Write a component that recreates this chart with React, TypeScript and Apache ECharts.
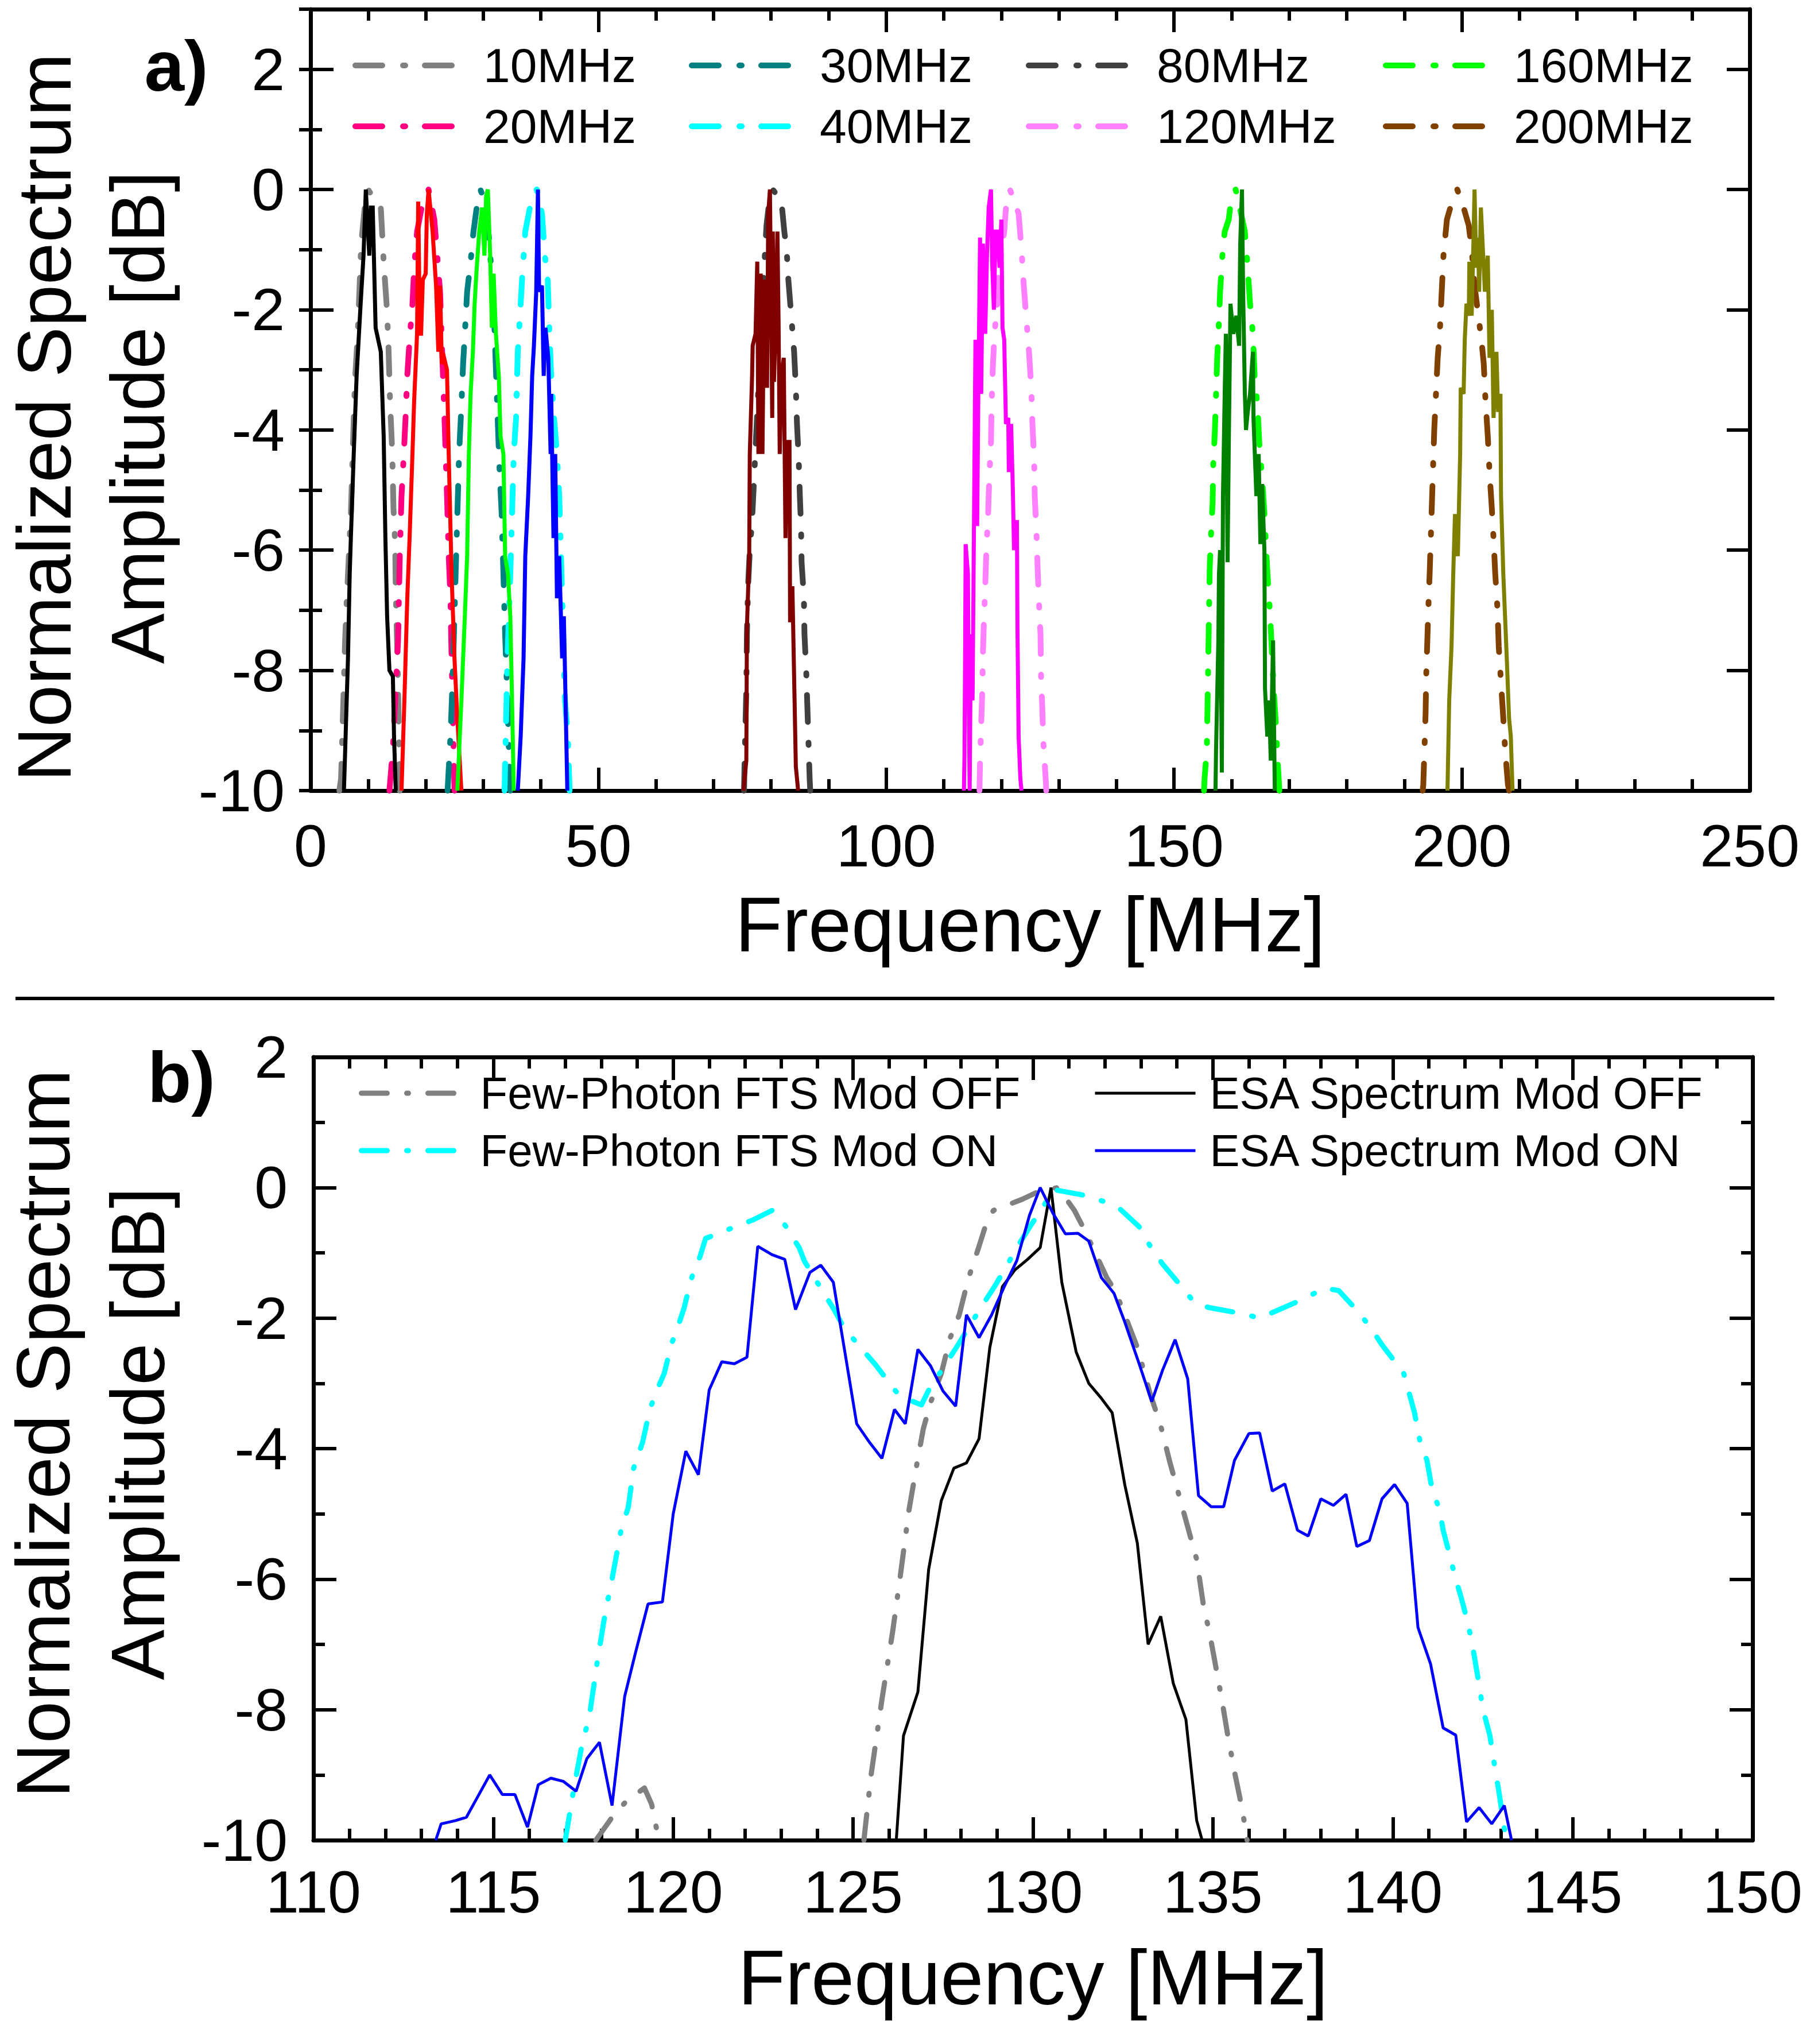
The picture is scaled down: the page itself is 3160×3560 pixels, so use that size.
import React, { useEffect, useRef } from "react";
import * as echarts from "echarts";

const FONT = "'Liberation Sans', Arial, Helvetica, sans-serif";

// ---------- Panel a: tick labels / categories ----------
const bandNames = ["10MHz", "20MHz", "30MHz", "40MHz", "80MHz", "120MHz", "160MHz", "200MHz"];
const legendColumnsA = [["10MHz", "20MHz"], ["30MHz", "40MHz"], ["80MHz", "120MHz"], ["160MHz", "200MHz"]];
const ftsColors = ["#808080", "#FF0080", "#008080", "#00FFFF", "#404040", "#FF80FF", "#00FF00", "#804000"];
const esaColors = ["#000000", "#FF0000", "#00FF00", "#0000FF", "#800000", "#FF00FF", "#008000", "#808000"];

// ---------- Panel a: few-photon FTS spectra (dash-dot) ----------
const fts10 = [[5.0,-10],[5.3,-9.8],[6.0,-7.5],[6.3,-6.8],[7.0,-5.4],[7.7,-3.2],[8.2,-2.4],[8.8,-0.9],[9.5,-0.2],[10.0,0],[11.0,-0.15],[12.2,-0.3],[12.7,-1.2],[13.2,-1.9],[13.5,-2.5],[13.8,-3.5],[14.2,-4.4],[14.4,-5.3],[14.7,-5.9],[14.8,-6.7],[15.1,-7.8],[15.3,-8.8],[15.5,-10]];
const fts20 = [[13.7,-10],[14.3,-9.3],[15.2,-7.5],[15.5,-6.1],[15.8,-5.1],[16.2,-4.4],[16.5,-3.8],[16.8,-3.1],[17.2,-2.5],[17.7,-1.9],[18.0,-1.3],[18.5,-0.7],[19.5,-0.2],[20.5,0],[21.5,-0.5],[22.0,-1.1],[22.5,-1.7],[23.0,-3.1],[23.3,-3.9],[23.7,-5.1],[24.0,-6.1],[24.3,-6.8],[24.5,-7.8],[24.8,-9.1],[25.0,-10]];
const fts30 = [[23.8,-10],[24.3,-9.1],[24.7,-8.1],[25.2,-6.4],[25.5,-5.4],[25.8,-4.4],[26.2,-3.6],[26.5,-2.9],[26.8,-2.4],[27.2,-1.7],[27.8,-1.2],[28.3,-0.7],[29.0,-0.2],[29.5,0],[30.3,-0.2],[31.0,-0.8],[31.8,-1.9],[32.2,-3.0],[32.5,-3.8],[32.8,-4.6],[33.2,-5.4],[33.5,-6.4],[33.8,-7.4],[34.2,-8.5],[34.5,-9.5],[34.7,-10]];
const fts40 = [[33.7,-10],[34.2,-7.8],[34.7,-6.4],[35.0,-5.4],[35.3,-4.4],[35.7,-3.8],[36.0,-2.7],[36.5,-1.9],[36.8,-1.4],[37.3,-0.7],[38.5,-0.1],[39.3,0],[40.2,-0.4],[40.7,-1.1],[41.2,-1.5],[41.5,-2.4],[41.8,-3.1],[42.3,-3.8],[42.8,-4.4],[43.2,-5.1],[43.5,-6.1],[43.8,-7.1],[44.2,-8.5],[44.7,-9.1],[45.0,-10]];
const fts80 = [[75.3,-10],[75.4,-9.5],[75.7,-8.3],[75.8,-7.4],[76.0,-6.6],[76.3,-6.0],[76.7,-5.5],[78.8,-1.3],[79.2,-0.6],[79.8,-0.1],[80.3,0],[81.8,-0.2],[82.3,-0.7],[82.7,-1.0],[83.0,-1.5],[83.5,-2.1],[84.0,-2.7],[84.3,-3.3],[84.5,-3.9],[84.8,-4.5],[85.0,-5.1],[85.2,-5.6],[85.3,-6.2],[85.7,-6.8],[85.8,-7.4],[86.1,-8.0],[86.3,-8.6],[86.5,-9.2],[86.7,-9.8],[86.8,-10]];
const fts120 = [[116.2,-10],[116.3,-9.5],[116.5,-8.9],[116.7,-8.3],[116.8,-7.7],[117.0,-7.1],[117.2,-6.6],[117.4,-6.0],[117.7,-5.4],[117.9,-4.8],[118.2,-4.2],[118.3,-3.6],[118.5,-3.0],[118.8,-2.4],[119.3,-1.9],[119.5,-1.4],[120.5,-0.7],[120.8,-0.3],[121.5,0],[123.0,-0.4],[123.5,-1.0],[123.9,-1.6],[124.3,-2.1],[124.8,-2.7],[125.2,-3.3],[125.4,-3.9],[125.7,-4.5],[125.8,-5.1],[126.1,-5.7],[126.3,-6.3],[126.5,-6.8],[126.8,-7.4],[126.9,-8.1],[127.1,-8.6],[127.3,-9.2],[127.7,-9.8],[127.8,-10]];
const fts160 = [[155.2,-10],[155.3,-9.8],[155.7,-9.3],[155.8,-8.7],[155.9,-8.1],[156.0,-7.5],[156.1,-6.9],[156.2,-6.3],[156.4,-5.8],[156.7,-5.2],[156.8,-4.6],[157.1,-4.0],[157.3,-3.4],[157.5,-2.8],[157.8,-2.2],[158.0,-1.7],[158.4,-1.1],[158.8,-0.7],[159.5,-0.5],[160.0,-0.1],[160.7,0],[161.2,-0.2],[162.3,-0.7],[162.8,-1.3],[163.2,-1.9],[163.7,-2.4],[164.0,-3.1],[164.5,-3.6],[164.8,-4.2],[165.3,-4.8],[165.7,-5.4],[166.0,-6.0],[166.3,-6.5],[166.7,-7.1],[167.0,-7.7],[167.3,-8.3],[167.7,-8.9],[168.0,-9.5],[168.3,-10]];
const fts200 = [[193.2,-10],[193.3,-9.9],[193.5,-9.3],[193.7,-8.7],[193.8,-8.1],[194.0,-7.5],[194.2,-6.9],[194.4,-6.4],[194.6,-5.8],[194.8,-5.2],[195.0,-4.6],[195.2,-4.0],[195.5,-3.4],[195.8,-2.8],[196.2,-2.3],[196.5,-1.7],[196.8,-1.1],[197.4,-0.5],[198.3,-0.2],[199.2,0],[200.3,-0.3],[201.2,-0.6],[201.7,-1.0],[202.2,-1.6],[203.0,-2.2],[203.5,-2.6],[203.8,-2.9],[204.1,-3.5],[204.5,-4.1],[204.8,-4.7],[205.2,-5.3],[205.5,-5.8],[205.8,-6.4],[206.2,-7.0],[206.4,-7.6],[206.8,-8.2],[207.2,-8.8],[207.5,-9.3],[208.0,-9.9],[208.2,-10]];

// ---------- Panel a: ESA spectra (solid) ----------
const esa10 = [[5.8,-10],[6.5,-7.8],[6.8,-6.4],[7.0,-5.8],[7.5,-4.4],[8.0,-3.1],[8.7,-1.9],[9.2,-1.1],[9.6,0],[10.2,-1.1],[10.5,-0.3],[10.8,-0.3],[11.3,-2.3],[12.2,-2.7],[12.7,-4.1],[13.0,-5.8],[13.3,-7.1],[13.7,-8.0],[14.3,-8.1],[14.5,-9.1],[14.8,-10]];
const esa20 = [[15.8,-10],[16.3,-8.5],[16.8,-6.8],[17.2,-5.8],[17.7,-4.4],[18.0,-3.5],[18.5,-2.4],[18.7,-0.2],[19.0,-2.4],[19.2,-2.4],[19.5,-1.5],[20.0,-1.4],[20.2,-0.4],[20.5,0],[21.2,-0.7],[21.8,-1.6],[22.2,-2.7],[22.5,-1.6],[22.8,-2.9],[23.2,-2.8],[23.7,-3.0],[24.0,-4.4],[24.5,-6.4],[25.0,-7.8],[25.5,-8.8],[26.2,-10]];
const esa30 = [[25.5,-10],[26.2,-8.5],[26.8,-7.1],[27.2,-6.1],[27.5,-4.4],[27.8,-3.4],[28.2,-2.7],[28.5,-1.9],[28.8,-1.4],[29.3,-0.7],[29.8,-0.3],[30.2,-1.1],[30.5,-0.1],[30.8,0],[31.2,-1.1],[31.5,-2.3],[31.8,-1.4],[32.2,-2.4],[32.7,-3.1],[33.0,-4.1],[33.5,-4.4],[33.8,-6.1],[34.3,-6.4],[34.7,-7.1],[35.0,-8.5],[35.3,-10]];
const esa40 = [[36.0,-10],[36.5,-9.1],[37.0,-7.8],[37.3,-6.1],[37.8,-5.1],[38.2,-4.1],[38.5,-3.1],[38.8,-2.6],[39.2,-1.7],[39.5,0],[39.7,-1.7],[40.2,-1.6],[40.5,-3.1],[40.8,-2.3],[41.3,-2.8],[41.7,-4.4],[41.8,-3.4],[42.2,-5.8],[42.5,-4.4],[42.8,-6.8],[43.2,-6.1],[43.7,-7.8],[44.0,-7.1],[44.3,-8.5],[44.6,-10]];
const esa80 = [[75.2,-10],[75.7,-9.5],[75.8,-7.3],[76.2,-6.1],[76.3,-4.4],[76.7,-3.1],[76.8,-2.6],[77.3,-2.4],[77.6,-1.2],[77.8,-4.4],[78.2,-1.4],[78.5,-4.4],[78.8,-1.5],[79.0,-1.7],[79.3,-3.3],[79.5,-0.4],[79.8,0],[80.2,-3.8],[80.3,-0.7],[80.5,-3.2],[80.8,-2.2],[81.1,-0.7],[81.3,-2.2],[81.5,-4.4],[81.8,-3.1],[82.2,-2.8],[82.5,-5.8],[82.8,-4.2],[83.2,-4.2],[83.3,-7.2],[83.7,-6.6],[84.0,-8.1],[84.3,-9.6],[84.7,-10]];
const esa120 = [[113.5,-10],[113.6,-9.4],[113.7,-7.8],[113.8,-5.9],[114.2,-6.4],[114.3,-8.1],[114.5,-10],[114.7,-7.4],[115.0,-8.5],[115.2,-6.1],[115.5,-2.5],[115.8,-5.6],[116.0,-3.4],[116.3,-0.8],[116.5,-3.4],[116.8,-0.9],[117.2,-2.4],[117.5,-1.1],[117.8,-0.3],[118.2,0],[118.4,-1.2],[118.7,-2.0],[119.0,-0.7],[119.3,-0.7],[119.7,-1.3],[120.0,-0.5],[120.2,-2.3],[120.5,-2.5],[120.8,-3.9],[121.2,-3.8],[121.3,-4.7],[121.7,-3.9],[122.0,-5.0],[122.2,-6.0],[122.7,-5.5],[122.8,-7.3],[123.0,-9.1],[123.3,-9.8],[123.5,-10]];
const esa160 = [[157.2,-10],[157.3,-9.3],[157.7,-7.5],[157.8,-6.4],[158.0,-6.0],[158.3,-9.7],[158.5,-5.1],[158.8,-3.4],[159.0,-2.4],[159.3,-6.2],[159.5,-4.3],[159.8,-1.9],[160.0,-2.1],[160.3,-2.4],[160.8,-2.1],[161.3,-2.6],[161.5,-0.9],[161.8,0],[162.0,-1.7],[162.3,-3.4],[162.5,-4.0],[162.8,-3.7],[163.2,-3.4],[163.7,-2.7],[163.8,-3.8],[164.3,-5.1],[164.7,-4.4],[165.0,-5.9],[165.3,-4.9],[165.7,-6.0],[165.8,-8.3],[166.2,-9.1],[166.5,-8.5],[166.8,-9.5],[167.2,-7.5],[167.5,-10]];
const esa200 = [[197.5,-10],[197.8,-8.5],[198.2,-7.6],[198.5,-6.4],[198.8,-5.4],[199.3,-6.1],[199.7,-4.4],[199.8,-3.3],[200.3,-3.4],[200.5,-2.5],[200.8,-1.9],[201.2,-2.1],[201.3,-1.2],[201.7,-2.1],[202.0,-0.9],[202.2,0],[202.5,-1.3],[202.8,-0.8],[203.0,-1.7],[203.3,-0.3],[203.7,-1.1],[204.0,-1.7],[204.5,-1.1],[204.8,-2.8],[205.2,-2.0],[205.5,-3.8],[206.0,-2.7],[206.3,-3.7],[206.7,-3.4],[206.8,-5.1],[207.2,-6.4],[207.5,-7.1],[207.8,-7.8],[208.2,-8.8],[208.5,-9.1],[208.8,-10]];

const ftsSeriesA = [fts10, fts20, fts30, fts40, fts80, fts120, fts160, fts200];
const esaSeriesA = [esa10, esa20, esa30, esa40, esa80, esa120, esa160, esa200];

// ---------- Panel b ----------
const seriesNamesB = ["Few-Photon FTS Mod OFF", "Few-Photon FTS Mod ON", "ESA Spectrum Mod OFF", "ESA Spectrum Mod ON"];
const ftsOff = [[117.85,-10],[118.3,-9.65],[118.7,-9.4],[119.2,-9.2],[119.4,-9.45],[119.6,-10],[122.5,null],[125.3,-10],[125.5,-9.0],[125.8,-7.85],[126.1,-6.8],[126.3,-6.0],[126.55,-4.95],[126.8,-4.15],[126.95,-3.7],[127.15,-3.3],[127.45,-2.85],[127.7,-2.3],[127.95,-1.95],[128.2,-1.4],[128.5,-0.9],[128.7,-0.55],[128.9,-0.35],[129.7,-0.18],[130.2,-0.05],[130.7,0],[131.15,-0.35],[131.45,-0.67],[132.05,-1.38],[132.3,-1.6],[132.55,-1.95],[132.9,-2.45],[133.25,-3.15],[133.55,-3.65],[133.8,-4.2],[134.05,-4.7],[134.3,-5.2],[134.55,-5.7],[134.75,-6.45],[134.9,-6.8],[135.05,-7.25],[135.25,-7.85],[135.4,-8.35],[135.6,-8.95],[135.75,-9.35],[135.9,-9.8],[135.95,-10]];
const ftsOn = [[117.0,-10],[117.24,-9.2],[117.46,-8.55],[117.67,-8.1],[117.88,-7.3],[118.1,-6.55],[118.3,-6.0],[118.55,-5.25],[118.75,-4.9],[118.9,-4.3],[119.15,-3.9],[119.35,-3.4],[119.55,-3.1],[119.75,-2.85],[119.95,-2.4],[120.15,-2.1],[120.3,-1.85],[120.5,-1.4],[120.75,-1.05],[120.9,-0.78],[121.4,-0.67],[122.2,-0.5],[122.75,-0.35],[123.1,-0.57],[123.5,-0.92],[123.65,-1.13],[124.0,-1.45],[124.45,-1.85],[124.7,-2.1],[125.05,-2.35],[125.6,-2.7],[125.95,-2.95],[126.3,-3.2],[126.9,-3.33],[127.15,-3.05],[127.5,-2.77],[127.95,-2.38],[128.55,-1.84],[128.95,-1.5],[129.3,-1.17],[129.55,-0.92],[129.95,-0.57],[130.3,-0.28],[130.55,-0.03],[131.35,-0.11],[131.95,-0.21],[132.4,-0.32],[132.95,-0.6],[133.25,-0.89],[133.6,-1.17],[134.1,-1.5],[134.5,-1.77],[134.9,-1.84],[135.8,-1.93],[136.3,-2.0],[136.8,-1.88],[137.55,-1.7],[138.1,-1.54],[138.5,-1.58],[139.05,-1.91],[139.4,-2.16],[139.7,-2.41],[140.3,-2.84],[140.45,-3.14],[140.6,-3.44],[140.75,-3.87],[140.95,-4.18],[141.1,-4.65],[141.3,-4.93],[141.4,-5.25],[141.55,-5.57],[141.75,-6.0],[141.9,-6.28],[142.1,-6.7],[142.25,-7.13],[142.4,-7.62],[142.5,-7.98],[142.7,-8.4],[142.8,-8.76],[142.95,-9.26],[143.1,-9.82],[143.2,-10]];
const esaOff = [[126.2,-10],[126.4,-8.4],[126.8,-7.73],[127.1,-5.85],[127.45,-4.8],[127.8,-4.3],[128.15,-4.22],[128.5,-3.85],[128.8,-2.45],[129.15,-1.52],[129.5,-1.26],[129.85,-1.1],[130.2,-0.92],[130.5,0],[130.8,-1.45],[131.2,-2.52],[131.55,-3.0],[131.9,-3.23],[132.2,-3.45],[132.55,-4.55],[132.9,-5.45],[133.2,-7.0],[133.55,-6.57],[133.9,-7.6],[134.25,-8.15],[134.55,-9.7],[134.7,-10]];
const esaOn = [[113.4,-10],[113.55,-9.75],[113.95,-9.7],[114.25,-9.65],[114.55,-9.35],[114.9,-9.0],[115.25,-9.3],[115.6,-9.3],[115.95,-9.8],[116.25,-9.15],[116.6,-9.05],[116.95,-9.1],[117.3,-9.25],[117.6,-8.75],[117.95,-8.5],[118.3,-9.47],[118.65,-7.8],[118.95,-7.13],[119.3,-6.38],[119.7,-6.35],[120.0,-5.0],[120.35,-4.04],[120.7,-4.4],[121.0,-3.1],[121.35,-2.67],[121.7,-2.7],[122.05,-2.6],[122.35,-0.9],[122.75,-1.03],[123.1,-1.1],[123.4,-1.87],[123.8,-1.3],[124.1,-1.19],[124.45,-1.45],[124.75,-2.45],[125.1,-3.62],[125.45,-3.9],[125.8,-4.15],[126.15,-3.4],[126.45,-3.62],[126.8,-2.48],[127.15,-2.73],[127.5,-3.12],[127.85,-3.35],[128.15,-1.95],[128.5,-2.3],[128.85,-1.95],[129.2,-1.52],[129.55,-1.12],[129.9,-0.43],[130.2,0],[130.55,-0.39],[130.9,-0.71],[131.25,-0.7],[131.55,-0.82],[131.9,-1.38],[132.25,-1.62],[132.55,-2.06],[132.95,-2.7],[133.3,-3.28],[133.6,-2.8],[133.95,-2.33],[134.3,-2.93],[134.6,-4.72],[134.95,-4.89],[135.3,-4.89],[135.6,-4.18],[136.0,-3.77],[136.3,-3.76],[136.65,-4.65],[137.0,-4.54],[137.35,-5.25],[137.65,-5.34],[138.0,-4.77],[138.35,-4.87],[138.7,-4.7],[139.0,-5.5],[139.35,-5.41],[139.7,-4.77],[140.05,-4.55],[140.4,-4.84],[140.7,-6.74],[141.05,-7.3],[141.4,-8.28],[141.75,-8.39],[142.05,-9.72],[142.4,-9.5],[142.75,-9.75],[143.1,-9.47],[143.3,-10]];

// axis ranges / tick settings
const xRangeA = [0, 250, 50];
const yRangeA = [-10, 3, 2];
const xRangeB = [110, 150, 5];
const yRangeB = [-10, 2, 2];

const AXIS_W = 7;
const TICK_W = 6;

function frameAxis(opts: any) {
  return {
    type: "value",
    splitLine: { show: false },
    axisLine: { show: true, onZero: false, lineStyle: { color: "#000", width: AXIS_W } },
    axisTick: { show: true, inside: true, length: 40, lineStyle: { color: "#000", width: TICK_W } },
    axisLabel: { show: false },
    ...opts,
  };
}

export default function App() {
  const ref = useRef<HTMLDivElement>(null);
  useEffect(() => {
    document.body.style.margin = "0";
    if (!ref.current) return;
    const chart = echarts.init(ref.current, undefined, { renderer: "svg" });

    const labelStyle = { fontFamily: FONT, fontSize: 104, color: "#000" };
    const minorA = { show: true, splitNumber: 5, length: 20, lineStyle: { color: "#000", width: TICK_W } };

    const xAxis = [
      frameAxis({ gridIndex: 0, position: "bottom", min: xRangeA[0], max: xRangeA[1], interval: xRangeA[2], minorTick: minorA,
        axisLabel: { show: true, margin: 44, ...labelStyle },
        name: "Frequency [MHz]", nameLocation: "middle", nameGap: 166,
        nameTextStyle: { fontFamily: FONT, fontSize: 135, color: "#000" } }),
      frameAxis({ gridIndex: 0, position: "top", min: xRangeA[0], max: xRangeA[1], interval: xRangeA[2], minorTick: minorA }),
      frameAxis({ gridIndex: 1, position: "bottom", min: xRangeB[0], max: xRangeB[1], interval: xRangeB[2], minorTick: minorA,
        axisLabel: { show: true, margin: 38, ...labelStyle },
        name: "Frequency [MHz]", nameLocation: "middle", nameGap: 172,
        nameTextStyle: { fontFamily: FONT, fontSize: 135, color: "#000" } }),
      frameAxis({ gridIndex: 1, position: "top", min: xRangeB[0], max: xRangeB[1], interval: xRangeB[2], minorTick: minorA }),
    ];

    const yAxis = [
      frameAxis({ gridIndex: 0, position: "left", min: yRangeA[0], max: yRangeA[1], interval: yRangeA[2],
        axisLabel: { show: true, margin: 45, ...labelStyle, formatter: (v: number) => (v > 2 ? "" : String(v)) } }),
      frameAxis({ gridIndex: 0, position: "left", min: yRangeA[0], max: yRangeA[1], interval: 1,
        axisLine: { show: false }, axisTick: { show: true, inside: true, length: 20, lineStyle: { color: "#000", width: TICK_W } } }),
      frameAxis({ gridIndex: 0, position: "right", min: yRangeA[0], max: yRangeA[1], interval: yRangeA[2] }),
      frameAxis({ gridIndex: 0, position: "right", min: yRangeA[0], max: yRangeA[1], interval: 1,
        axisLine: { show: false }, axisTick: { show: true, inside: true, length: 20, lineStyle: { color: "#000", width: TICK_W } } }),
      frameAxis({ gridIndex: 1, position: "left", min: yRangeB[0], max: yRangeB[1], interval: yRangeB[2],
        minorTick: { ...minorA, splitNumber: 2 },
        axisLabel: { show: true, margin: 45, ...labelStyle } }),
      frameAxis({ gridIndex: 1, position: "right", min: yRangeB[0], max: yRangeB[1], interval: yRangeB[2],
        minorTick: { ...minorA, splitNumber: 2 } }),
    ];

    const series: any[] = [];
    bandNames.forEach((name, i) => {
      series.push({
        type: "line", name, data: ftsSeriesA[i], xAxisIndex: 0, yAxisIndex: 0,
        symbol: "none", showSymbol: false, clip: true, z: 2,
        itemStyle: { color: ftsColors[i] },
        lineStyle: { color: ftsColors[i], width: 10, type: [47, 36, 4, 34], cap: "round", join: "round" },
      });
    });
    bandNames.forEach((name, i) => {
      series.push({
        type: "line", name: name + " ESA", data: esaSeriesA[i], xAxisIndex: 0, yAxisIndex: 0,
        symbol: "none", showSymbol: false, clip: true, z: 3,
        itemStyle: { color: esaColors[i] },
        lineStyle: { color: esaColors[i], width: 7, type: "solid", join: "miter" },
      });
    });
    const bData = [ftsOff, ftsOn, esaOff, esaOn];
    const bColors = ["#808080", "#00FFFF", "#000000", "#0000FF"];
    seriesNamesB.forEach((name, i) => {
      const dashed = i < 2;
      series.push({
        type: "line", name, data: bData[i], xAxisIndex: 2, yAxisIndex: 4,
        symbol: "none", showSymbol: false, clip: true, z: dashed ? 2 : 3, connectNulls: false,
        itemStyle: { color: bColors[i] },
        lineStyle: dashed
          ? { color: bColors[i], width: 9, type: [45, 34, 3, 34], cap: "round", join: "round" }
          : { color: bColors[i], width: 5, type: "solid" },
      });
    });

    const legends: any[] = [];
    const colXA = [614, 1200, 1787, 2409];
    const rowYA = [114, 220];
    legendColumnsA.forEach((col, ci) =>
      col.forEach((name, ri) => {
        legends.push({
          show: true, selectedMode: false, data: [name], left: colXA[ci], top: rowYA[ri] - 42,
          orient: "horizontal", padding: 0, itemWidth: 182, itemHeight: 84,
          itemStyle: { opacity: 0, color: "rgba(0,0,0,0)", borderWidth: 0 },
          lineStyle: { width: 10, cap: "round" },
          textStyle: { fontFamily: FONT, fontSize: 84, color: "#000", padding: [0, 0, 0, 36] },
        });
      })
    );
    const legendPosB = [
      { x: 625, y: 1905, w: 182, width: 9 },
      { x: 625, y: 2005, w: 182, width: 9 },
      { x: 1905, y: 1905, w: 175, width: 5 },
      { x: 1905, y: 2005, w: 175, width: 5 },
    ];
    seriesNamesB.forEach((name, i) => {
      const p = legendPosB[i];
      legends.push({
        show: true, selectedMode: false, data: [name], left: p.x, top: p.y - 40,
        orient: "horizontal", padding: 0, itemWidth: p.w, itemHeight: 80,
        itemStyle: { opacity: 0, color: "rgba(0,0,0,0)", borderWidth: 0 },
        lineStyle: { width: p.width, cap: i < 2 ? "round" : "butt" },
        textStyle: { fontFamily: FONT, fontSize: 78, color: "#000", padding: [0, 0, 0, 20] },
      });
    });

    const titleText = (text: string, x: number, y: number) => ({
      type: "text", x, y, rotation: Math.PI / 2,
      style: { text, fill: "#000", fontFamily: FONT, fontSize: 132, lineHeight: 126, textAlign: "center", textVerticalAlign: "middle", align: "center", verticalAlign: "middle" },
    });

    const option: any = {
      animation: false,
      backgroundColor: "#fff",
      grid: [
        { left: 541, top: 16, width: 2507, height: 1361, containLabel: false },
        { left: 546, top: 1841, width: 2507, height: 1364, containLabel: false },
      ],
      xAxis,
      yAxis,
      legend: legends,
      series,
      graphic: [
        { type: "line", shape: { x1: 27, y1: 1739, x2: 3091, y2: 1739 }, style: { stroke: "#000", lineWidth: 6 } },
        { type: "text", x: 307, y: 114, style: { text: "a)", fill: "#000", fontFamily: FONT, fontSize: 125, fontWeight: "bold", textAlign: "center", textVerticalAlign: "middle", align: "center", verticalAlign: "middle" } },
        { type: "text", x: 316, y: 1875, style: { text: "b)", fill: "#000", fontFamily: FONT, fontSize: 125, fontWeight: "bold", textAlign: "center", textVerticalAlign: "middle", align: "center", verticalAlign: "middle" } },
        titleText("Normalized Spectrum", 77, 727),
        titleText("Amplitude [dB]", 240, 727),
        titleText("Normalized Spectrum", 75, 2497),
        titleText("Amplitude [dB]", 240, 2497),
      ],
    };
    chart.setOption(option);
    return () => chart.dispose();
  }, []);
  return <div ref={ref} style={{ width: 3160, height: 3560, background: "#fff" }} />;
}
